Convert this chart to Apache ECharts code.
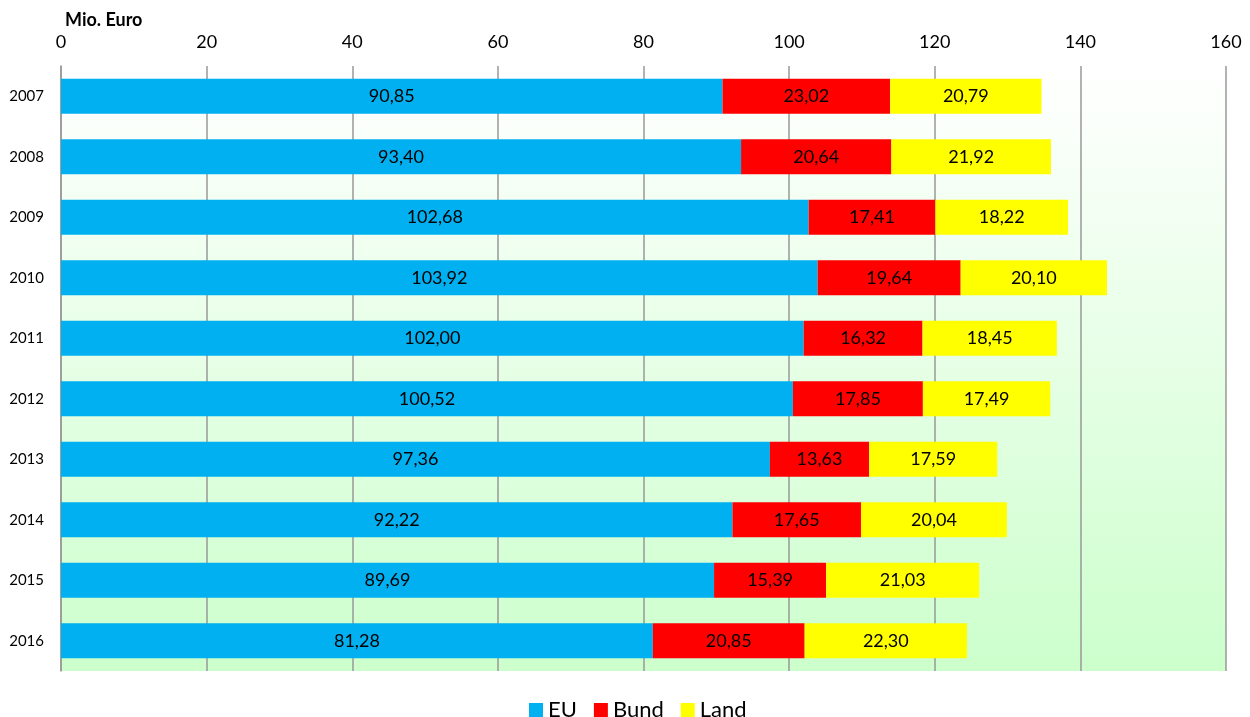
<!DOCTYPE html>
<html>
<head>
<meta charset="utf-8">
<script src="https://cdn.jsdelivr.net/npm/echarts@6/dist/echarts.min.js"></script>
<style>html,body{margin:0;padding:0;background:#fff}#c{width:1250px;height:717px}</style>
</head>
<body>
<div id="c"></div>
<script>
const years = ['2007','2008','2009','2010','2011','2012','2013','2014','2015','2016'];
const eu   = [90.85, 93.40, 102.68, 103.92, 102.00, 100.52, 97.36, 92.22, 89.69, 81.28];
const bund = [23.02, 20.64, 17.41, 19.64, 16.32, 17.85, 13.63, 17.65, 15.39, 20.85];
const land = [20.79, 21.92, 18.22, 20.10, 18.45, 17.49, 17.59, 20.04, 21.03, 22.30];
const xTicks = [0, 20, 40, 60, 80, 100, 120, 140, 160];

const FONT = 'Lato';
const fmt = v => v.value.toFixed(2).replace('.', ',');
const lbl = { show: true, position: 'inside', formatter: fmt, color: '#000', fontSize: 18, fontFamily: FONT };

const chart = echarts.init(document.getElementById('c'), null, { renderer: 'canvas' });
chart.setOption({
  animation: false,
  textStyle: { fontFamily: FONT },
  grid: {
    left: 61, right: 24, top: 66, bottom: 46, show: true, borderWidth: 0,
    backgroundColor: { type: 'linear', x: 0, y: 0, x2: 0, y2: 1,
      colorStops: [{ offset: 0, color: '#ffffff' }, { offset: 0.08, color: '#fbfffb' }, { offset: 1, color: '#ccffcc' }] }
  },
  graphic: [{ type: 'text', left: 65, top: 11, style: { text: 'Mio. Euro', font: 'bold 18px ' + FONT, fill: '#000' } }],
  xAxis: {
    type: 'value', position: 'top', min: xTicks[0], max: xTicks[xTicks.length - 1], interval: 20,
    axisLine: { show: false }, axisTick: { show: false },
    axisLabel: { color: '#000', fontSize: 18, fontFamily: FONT, margin: 15 },
    splitLine: { show: true, lineStyle: { color: '#999', width: 1.5 } }
  },
  yAxis: {
    type: 'category', data: years, inverse: true,
    axisLine: { show: true, lineStyle: { color: '#999', width: 1.5 } }, axisTick: { show: false },
    axisLabel: { color: '#000', fontSize: 15, fontFamily: FONT, margin: 17 }
  },
  legend: {
    bottom: -9, left: 524, itemWidth: 14, itemHeight: 14, itemGap: 17,
    icon: 'rect', textStyle: { fontSize: 22, color: '#000', fontFamily: FONT },
    data: ['EU', 'Bund', 'Land']
  },
  series: [
    { name: 'EU', type: 'bar', stack: 's', data: eu, barWidth: 35, itemStyle: { color: '#00b0f0' }, label: lbl },
    { name: 'Bund', type: 'bar', stack: 's', data: bund, barWidth: 35, itemStyle: { color: '#ff0000' }, label: lbl },
    { name: 'Land', type: 'bar', stack: 's', data: land, barWidth: 35, itemStyle: { color: '#ffff00' }, label: lbl }
  ]
});
</script>
</body>
</html>
